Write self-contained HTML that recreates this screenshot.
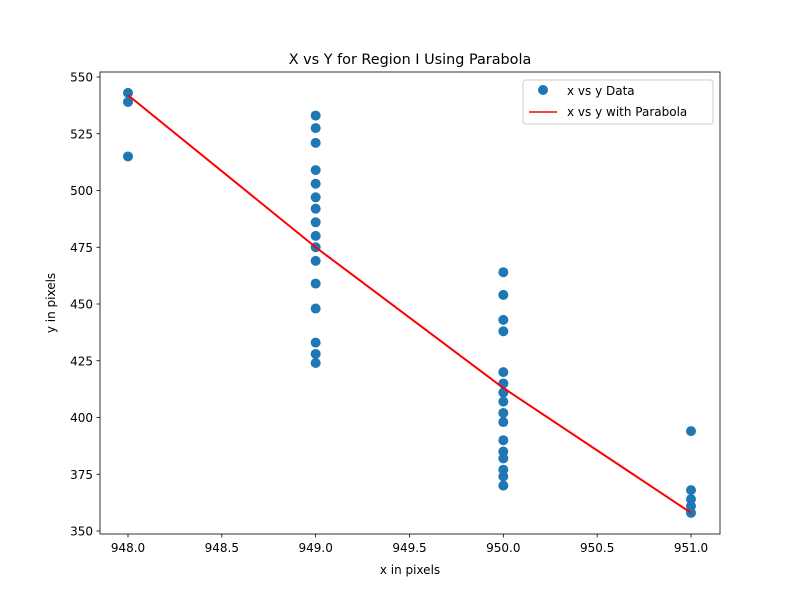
<!DOCTYPE html>
<html><head><meta charset="utf-8"><style>
body{margin:0;background:#fff;}
svg text{font-family:"DejaVu Sans","Liberation Sans",sans-serif;fill:#000;}
</style></head><body>
<svg id="c" width="800" height="600" xmlns="http://www.w3.org/2000/svg">
<rect width="800" height="600" fill="#fff"/>
<text x="410" y="64" font-size="14.4" text-anchor="middle">X vs Y for Region I Using Parabola</text>
<text x="410" y="574" font-size="12" text-anchor="middle">x in pixels</text>
<text x="0" y="0" font-size="12" text-anchor="middle" transform="translate(55,303) rotate(-90)">y in pixels</text>
<g id="marks"></g>
<rect x="100" y="72" width="620" height="462" fill="none" stroke="#000" stroke-width="0.8"/>
<g>
<rect x="523" y="80" width="190" height="44" rx="3" fill="#fff" fill-opacity="0.8" stroke="#ccc"/>
<circle cx="543" cy="90" r="5" fill="#1f77b4"/>
<text x="567" y="95" font-size="12">x vs y Data</text>
<line x1="529" y1="112" x2="557" y2="112" stroke="#ff0000" stroke-width="1.5"/>
<text x="567" y="116" font-size="12">x vs y with Parabola</text>
</g>
</svg>
<script>
const xTicks=[948.0,948.5,949.0,949.5,950.0,950.5,951.0];
const yTicks=[350,375,400,425,450,475,500,525,550];
const dataX=[948,948,948,949,949,949,949,949,949,949,949,949,949,949,949,949,949,949,949,950,950,950,950,950,950,950,950,950,950,950,950,950,950,950,950,951,951,951,951,951];
const dataY=[543,539,515,533,527.5,521,509,503,497,492,486,480,475,469,459,448,433,428,424,464,454,443,438,420,415,411,407,402,398,390,385,382,377,374,370,394,368,364,361,358];
const fitX=[948,949,950,951];
const fitY=[542,475,413,358];
const sx=v=>128+(v-948)*(691-128)/3;
const sy=v=>77+(550-v)*(531-77)/200;
const NS="http://www.w3.org/2000/svg";
const svg=document.getElementById('c');
const g=document.getElementById('marks');
function mk(t,a,p){const e=document.createElementNS(NS,t);for(const k in a)e.setAttribute(k,a[k]);(p||g).appendChild(e);return e;}
xTicks.forEach(v=>{
 const l=mk('line',{x1:sx(v),x2:sx(v),y1:534,y2:537.5,stroke:'#000','stroke-width':0.8});
 
 
 const t=mk('text',{x:sx(v),y:552,'font-size':12,'text-anchor':'middle'});
 t.textContent=v.toFixed(1);
 
 
});
yTicks.forEach(v=>{
 const l=mk('line',{x1:96.5,x2:100,y1:sy(v),y2:sy(v),stroke:'#000','stroke-width':0.8});
 
 
 const t=mk('text',{x:93,y:sy(v)+4.5,'font-size':12,'text-anchor':'end'});
 t.textContent=v;
 
 
});
dataX.forEach((x,i)=>{
 const c=mk('circle',{cx:sx(x),cy:sy(dataY[i]),r:5,fill:'#1f77b4'});
 
 
});
const pl=mk('polyline',{points:fitX.map((x,i)=>sx(x)+','+sy(fitY[i])).join(' '),fill:'none',stroke:'#ff0000','stroke-width':2});


</script>
</body></html>
